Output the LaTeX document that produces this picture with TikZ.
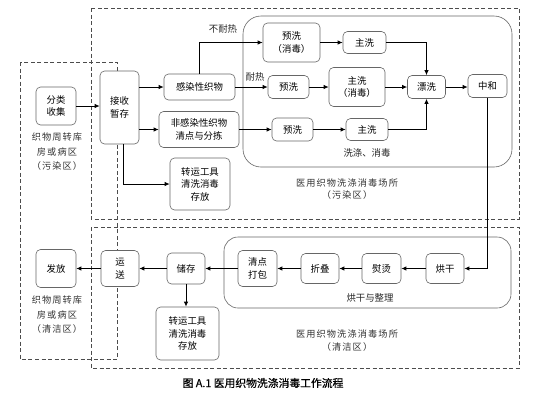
\documentclass[tikz,border=0pt]{standalone}
\usepackage{fontspec}
\newfontfamily\cjk{Noto Sans CJK SC}
\newfontfamily\cjkw[LetterSpace=12]{Noto Sans CJK SC}
\newfontfamily\cjkc[FakeBold=0.6]{Noto Sans CJK SC}
\usetikzlibrary{arrows.meta}
\begin{document}
\begin{tikzpicture}[x=1pt,y=-1pt,
  box/.style={draw=black!60, fill=white, rounded corners=4.5pt, align=center, inner sep=0pt,
    font=\cjk\fontsize{9.4}{12.5}\selectfont, line width=0.6pt, text=black},
  arr/.style={-{Latex[length=5pt,width=4.5pt]}, line width=0.9pt, black},
  zone/.style={draw=black!70, dashed, dash pattern=on 4pt off 2.5pt, line width=0.8pt},
  cont/.style={draw=black!60, line width=0.6pt},
  lbl/.style={font=\cjk\fontsize{9.4}{12}\selectfont, align=center, inner sep=0pt, text=black!85},
  zlbl/.style={font=\cjkw\fontsize{9.2}{14.5}\selectfont, align=center, inner sep=0pt, text=black!80}]
\useasboundingbox (0,0) rectangle (538,400);
% zones
\draw[zone] (91,8) rectangle (519,219);
\draw[zone] (91,227) rectangle (519,368);
\draw[zone] (20,62) rectangle (117,359);
% containers
\draw[cont, rounded corners=18pt] (243,16) rectangle (512,167);
\draw[cont, rounded corners=14pt] (224,237) rectangle (511,308);
% nodes
\node[box, minimum width=40pt, minimum height=38pt] (fenlei) at (56,106) {分类\\收集};
\node[box, minimum width=39pt, minimum height=73pt] (jieshou) at (119.5,107.5) {接收\\暂存};
\node[box, minimum width=71pt, minimum height=26pt] (ganran) at (199.5,87) {感染性织物};
\node[box, minimum width=80pt, minimum height=36pt] (feiganran) at (199,129.5) {非感染性织物\\清点与分拣};
\node[box, minimum width=60pt, minimum height=52pt] (zhuanyun1) at (200,184) {转运工具\\清洗消毒\\存放};
\node[box, minimum width=57pt, minimum height=39pt] (yuxixd) at (291.5,42.5) {预洗\\（消毒）};
\node[box, minimum width=43pt, minimum height=22pt] (zhuxi1) at (364.5,42.5) {主洗};
\node[box, minimum width=41pt, minimum height=23pt] (yuxi2) at (288.5,87) {预洗};
\node[box, minimum width=56pt, minimum height=39pt] (zhuxixd) at (357,87) {主洗\\（消毒）};
\node[box, minimum width=38pt, minimum height=23pt] (piaoxi) at (426.5,87) {漂洗};
\node[box, minimum width=39pt, minimum height=23pt] (zhonghe) at (487.5,86) {中和};
\node[box, minimum width=41pt, minimum height=23pt] (yuxi3) at (292.5,129.5) {预洗};
\node[box, minimum width=42pt, minimum height=22pt] (zhuxi3) at (367,129.5) {主洗};
\node[box, minimum width=38pt, minimum height=30pt] (hongan) at (445,268.5) {烘干};
\node[box, minimum width=39pt, minimum height=30pt] (yuntang) at (381.5,268.5) {熨烫};
\node[box, minimum width=38pt, minimum height=30pt] (zhedie) at (320,268.5) {折叠};
\node[box, minimum width=39pt, minimum height=36pt] (qingdian) at (257.5,268.5) {清点\\打包};
\node[box, minimum width=38pt, minimum height=31pt] (chucun) at (186,268.5) {储存};
\node[box, minimum width=38pt, minimum height=36pt] (yunsong) at (120,268.5) {运\\送};
\node[box, minimum width=40pt, minimum height=38pt] (fafang) at (56,268.5) {发放};
\node[box, minimum width=63pt, minimum height=53pt] (zhuanyun2) at (187.5,333.5) {转运工具\\清洗消毒\\存放};
% labels
\node[lbl] (tbunai) at (223,29) {不耐热};
\node[lbl] (tnai) at (255,77) {耐热};
\node[lbl] (txidi) at (367,153) {洗涤、消毒};
\node[zlbl, font=\cjkw\fontsize{9.2}{12.5}\selectfont] (twuran) at (347,189) {医用织物洗涤消毒场所\\（污染区）};
\node[zlbl] (tkufang1) at (57,152) {织物周转库\\房或病区\\（污染区）};
\node[lbl] (thonggan) at (370,298) {烘干与整理};
\node[zlbl, font=\cjkw\fontsize{9.2}{12.5}\selectfont] (tqingjie) at (347,340.5) {医用织物洗涤消毒场所\\（清洁区）};
\node[zlbl] (tkufang2) at (57,315) {织物周转库\\房或病区\\（清洁区）};
\node[lbl, font=\cjkc\fontsize{10.8}{12}\selectfont, text=black] (caption) at (263,383) {图 A.1 医用织物洗涤消毒工作流程};
% arrows
\draw[arr] (fenlei.east) -- (jieshou.west |- fenlei.east);
\draw[arr] (jieshou.east |- ganran.west) -- (ganran.west);
\draw[arr] (jieshou.east |- feiganran.west) -- (feiganran.west);
\draw[arr] ([xshift=3.5pt]jieshou.south) |- (zhuanyun1.west);
\draw[arr] (ganran.north) |- (yuxixd.west);
\draw[arr] (ganran.east) -- (yuxi2.west);
\draw[arr] (feiganran.east) -- (yuxi3.west);
\draw[arr] (yuxixd.east) -- (zhuxi1.west);
\draw[arr] (zhuxi1.east) -| (piaoxi.north);
\draw[arr] (yuxi2.east) -- (zhuxixd.west);
\draw[arr] (zhuxixd.east) -- (piaoxi.west);
\draw[arr] (yuxi3.east) -- (zhuxi3.west);
\draw[arr] (zhuxi3.east) -| (piaoxi.south);
\draw[arr] (piaoxi.east) -- (zhonghe.west |- piaoxi.east);
\draw[arr] (zhonghe.south) |- (hongan.east);
\draw[arr] (hongan.west) -- (yuntang.east);
\draw[arr] (yuntang.west) -- (zhedie.east);
\draw[arr] (zhedie.west) -- (qingdian.east);
\draw[arr] (qingdian.west) -- (chucun.east);
\draw[arr] (chucun.west) -- (yunsong.east);
\draw[arr] (yunsong.west) -- (fafang.east);
\draw[arr] (chucun.south) -- (chucun.south |- zhuanyun2.north);
\end{tikzpicture}
\end{document}
